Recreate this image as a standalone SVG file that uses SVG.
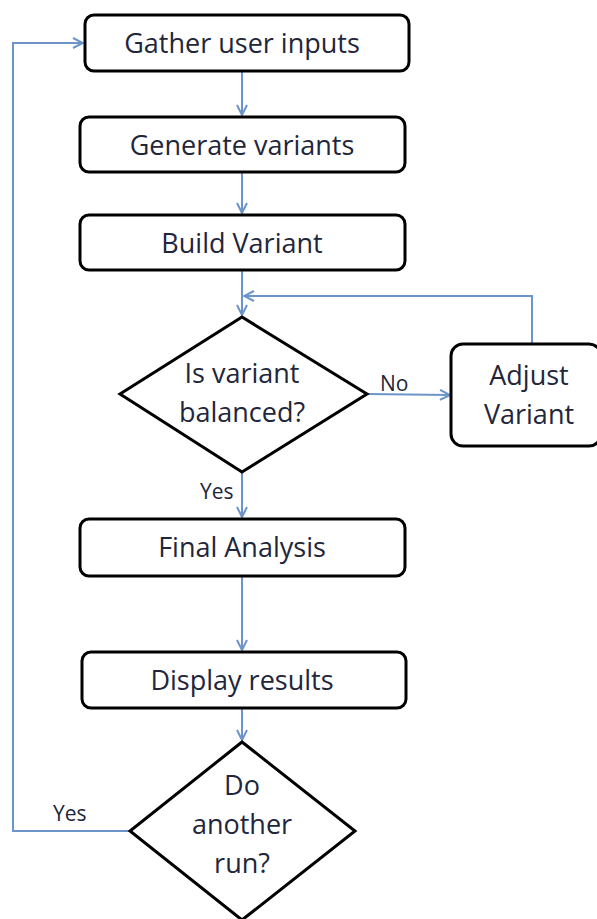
<svg xmlns="http://www.w3.org/2000/svg" width="597" height="919" viewBox="0 0 597 919">
<defs>
<style>
.box{fill:#fff;stroke:#000;stroke-width:3}
.t{font-family:"Open Sans","Liberation Sans",sans-serif;font-size:27px;fill:#22263a;text-anchor:middle}
.lbl{font-family:"Open Sans","Liberation Sans",sans-serif;font-size:21px;fill:#22263a}
.c{fill:none;stroke:#6b94c9;stroke-width:2}
</style>
<marker id="ah" viewBox="0 0 12 12" refX="11" refY="6" markerWidth="12" markerHeight="12" markerUnits="userSpaceOnUse" orient="auto">
<path d="M1,1 L11,6 L1,11" fill="none" stroke="#6b94c9" stroke-width="2"/>
</marker>
</defs>
<rect width="597" height="919" fill="#fff"/>
<g id="connectors">
<path class="c" d="M242,71 V115" marker-end="url(#ah)"/>
<path class="c" d="M242,172 V213" marker-end="url(#ah)"/>
<path class="c" d="M242,270 V315" marker-end="url(#ah)"/>
<path class="c" d="M532,343 V296 H244" marker-end="url(#ah)"/>
<path class="c" d="M367,394 L450,395" marker-end="url(#ah)"/>
<path class="c" d="M242,472 V517" marker-end="url(#ah)"/>
<path class="c" d="M242,576 V650" marker-end="url(#ah)"/>
<path class="c" d="M242,708 V740" marker-end="url(#ah)"/>
<path class="c" d="M130,831 H13 V43 H83" marker-end="url(#ah)"/>
<text class="lbl" x="380" y="391">No</text>
<text class="lbl" x="200" y="499">Yes</text>
<text class="lbl" x="53" y="821">Yes</text>
</g>
<g id="gather"><rect class="box" x="85" y="15" width="324" height="56" rx="9"/><text class="t" x="242" y="53">Gather user inputs</text></g>
<g id="generate"><rect class="box" x="80" y="117" width="325" height="55" rx="9"/><text class="t" x="242" y="155">Generate variants</text></g>
<g id="build"><rect class="box" x="80" y="215" width="325" height="55" rx="9"/><text class="t" x="242" y="253">Build Variant</text></g>
<g id="balanced"><polygon class="box" points="242,317 367,394 242,472 120,394"/><text class="t" x="242" y="383">Is variant</text><text class="t" x="242" y="422">balanced?</text></g>
<g id="adjust"><rect class="box" x="451" y="344" width="150" height="102" rx="12"/><text class="t" x="529" y="385">Adjust</text><text class="t" x="529" y="424">Variant</text></g>
<g id="final"><rect class="box" x="80" y="519" width="325" height="57" rx="9"/><text class="t" x="242" y="557">Final Analysis</text></g>
<g id="display"><rect class="box" x="82" y="652" width="324" height="56" rx="9"/><text class="t" x="242" y="690">Display results</text></g>
<g id="another"><polygon class="box" points="242,742 355,831 242,920 130,831"/><text class="t" x="242" y="795">Do</text><text class="t" x="242" y="834">another</text><text class="t" x="242" y="873">run?</text></g>
</svg>
